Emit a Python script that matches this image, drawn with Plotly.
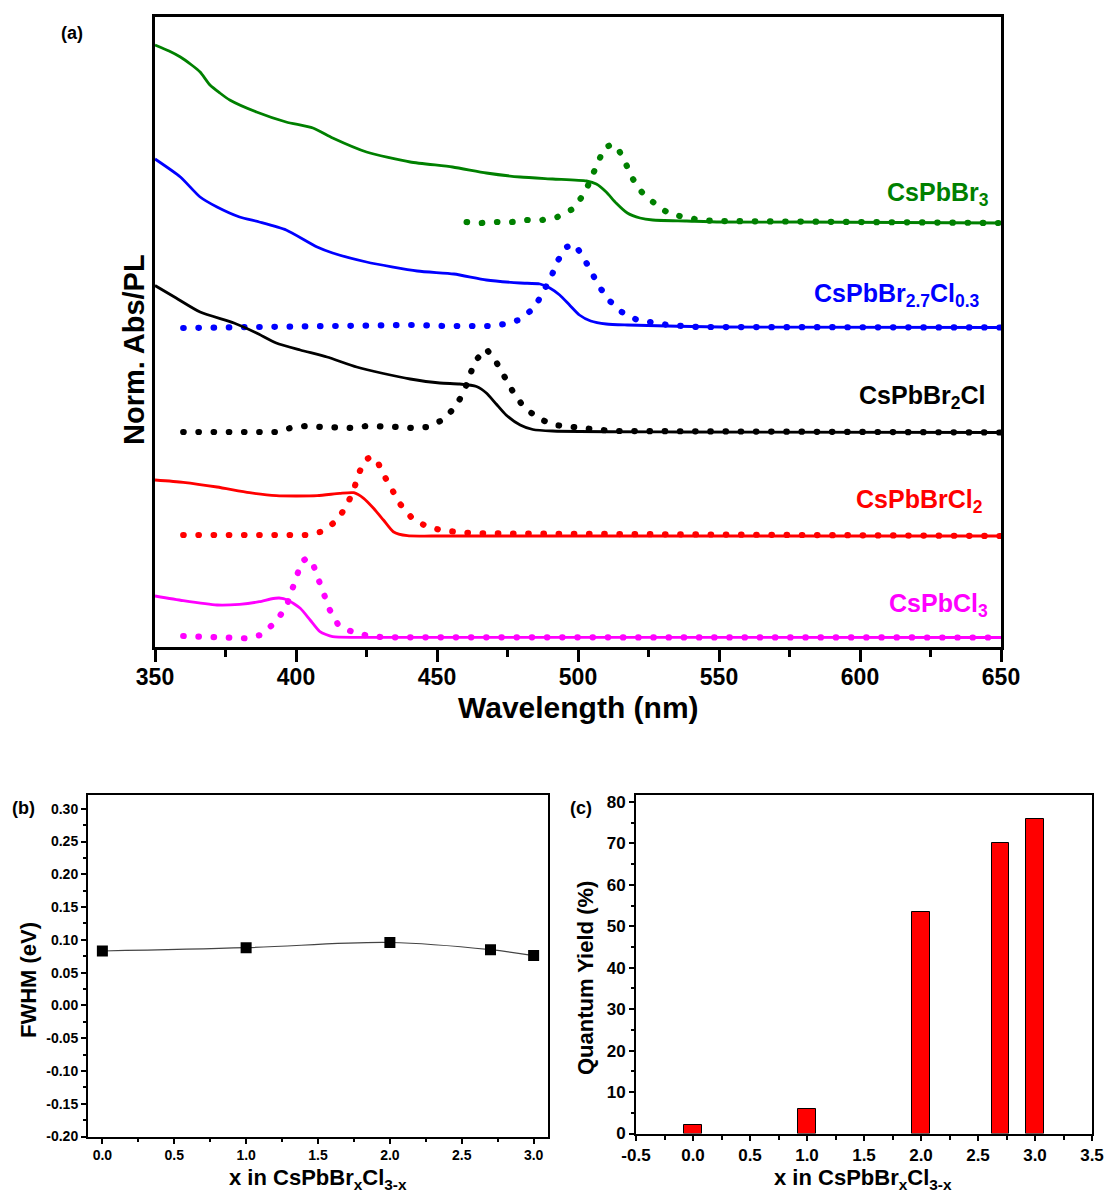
import plotly.graph_objects as go

FONT = "Liberation Sans, Arial, sans-serif"

# ---------------- Panel (a): normalized absorption (solid) and PL (dotted) ----------------
WL_TICKS = [350, 400, 450, 500, 550, 600, 650]

# CsPbBr3 (green)
BR3_ABS_X = [350, 355, 359, 363, 366, 369.5, 373, 376.5, 386, 396.5, 406, 413, 425, 440.5, 455.5,
             467.5, 479.5, 491, 503, 506.5, 510, 513.5, 517.5, 522, 526.5, 538.5, 550.5, 578.5, 614, 650]
BR3_ABS_Y = [6.02, 5.96, 5.90, 5.82, 5.75, 5.62, 5.54, 5.47, 5.35, 5.25, 5.19, 5.09, 4.95, 4.85, 4.80,
             4.74, 4.70, 4.68, 4.66, 4.63, 4.55, 4.44, 4.34, 4.29, 4.27, 4.26, 4.25, 4.25, 4.245, 4.24]
BR3_PL_X = [460.5, 465.8, 471.2, 476.6, 482.0, 487.3, 492.7, 498.2, 502.4, 504.7, 507.0, 509.3, 511.5,
            513.7, 516.7, 519.0, 522.6, 527.4, 532.4, 537.7, 543.3, 548.6, 650]
BR3_PL_Y = [4.25, 4.24, 4.25, 4.25, 4.27, 4.27, 4.30, 4.38, 4.54, 4.69, 4.84, 4.99, 5.02,
            5.01, 4.85, 4.70, 4.55, 4.43, 4.33, 4.30, 4.27, 4.26, 4.24]

# CsPbBr2.7Cl0.3 (blue)
BR27_ABS_X = [350, 359, 366, 372, 380, 387, 396.5, 407.5, 413, 425, 443, 456, 467.5, 479.5, 486.5,
              490, 493.5, 497, 500.5, 504.5, 510, 517.5, 550.5, 650]
BR27_ABS_Y = [4.88, 4.70, 4.50, 4.40, 4.30, 4.25, 4.17, 4.00, 3.94, 3.85, 3.76, 3.73, 3.67, 3.64, 3.63,
              3.59, 3.52, 3.42, 3.32, 3.26, 3.23, 3.22, 3.20, 3.195]
BR27_PL_X = [360, 398, 414.5, 430.5, 441.5, 452, 463, 468.5, 474, 479, 484.5, 487.5, 490.5, 492.5, 496,
             498.5, 501, 504, 507, 510.5, 515.5, 521, 526.5, 532, 537.5, 542.5, 650]
BR27_PL_Y = [3.19, 3.20, 3.21, 3.22, 3.22, 3.21, 3.21, 3.21, 3.23, 3.27, 3.39, 3.54, 3.70, 3.85, 4.00,
             4.03, 3.94, 3.79, 3.63, 3.48, 3.35, 3.27, 3.24, 3.22, 3.21, 3.20, 3.195]

# CsPbBr2Cl (black)
BR2_ABS_X = [350, 357.5, 366, 378, 386, 393, 401.5, 411, 421.5, 431, 440.5, 451, 458, 464, 467.5,
             471, 474.5, 479.5, 484, 491, 536, 650]
BR2_ABS_Y = [3.615, 3.49, 3.35, 3.24, 3.14, 3.04, 2.97, 2.90, 2.80, 2.735, 2.68, 2.64, 2.63, 2.605, 2.54,
             2.43, 2.32, 2.22, 2.175, 2.16, 2.15, 2.145]
BR2_PL_X = [360, 393, 398, 403.5, 409, 414.5, 420, 425, 430.5, 436, 441.5, 446.5, 452, 456.5, 459.5,
            461.5, 463.5, 467.5, 471, 474, 477, 481, 486.5, 491.5, 497, 502.5, 508, 513.5, 650]
BR2_PL_Y = [2.15, 2.15, 2.19, 2.21, 2.20, 2.19, 2.19, 2.21, 2.21, 2.20, 2.19, 2.20, 2.27, 2.40, 2.55,
            2.71, 2.86, 2.98, 2.85, 2.70, 2.55, 2.39, 2.28, 2.22, 2.20, 2.19, 2.17, 2.16, 2.145]

# CsPbBrCl2 (red)
BR1_ABS_X = [350, 360, 372, 383.5, 393, 407.5, 415.5, 420.5, 424, 427.5, 431, 434.5, 439.5, 448.5, 650]
BR1_ABS_Y = [1.67, 1.647, 1.60, 1.543, 1.513, 1.513, 1.537, 1.543, 1.487, 1.387, 1.27, 1.153, 1.113, 1.11, 1.11]
BR1_PL_X = [360, 403.5, 409, 414.5, 418, 420.5, 422, 424.5, 426.5, 428.5, 431, 434, 437, 441.5, 447,
            452.5, 458, 463, 650]
BR1_PL_Y = [1.12, 1.12, 1.153, 1.263, 1.417, 1.57, 1.72, 1.87, 1.90, 1.877, 1.727, 1.577, 1.427, 1.277, 1.197,
            1.163, 1.147, 1.137, 1.11]

# CsPbCl3 (magenta)
CL3_ABS_X = [350, 360, 372, 380, 387, 391, 394, 397, 401.5, 405, 408.5, 413, 425, 650]
CL3_ABS_Y = [0.51, 0.463, 0.42, 0.427, 0.453, 0.48, 0.49, 0.47, 0.387, 0.27, 0.153, 0.103, 0.097, 0.095]
CL3_PL_X = [360, 371, 376.5, 382, 387.5, 392.5, 396.5, 398.5, 400, 402, 404, 406, 408, 410, 412, 415,
            420.5, 425.5, 431, 650]
CL3_PL_Y = [0.11, 0.103, 0.087, 0.087, 0.12, 0.243, 0.397, 0.547, 0.70, 0.853, 0.89, 0.833, 0.673, 0.52,
            0.37, 0.22, 0.143, 0.113, 0.097, 0.095]

SAMPLE_LABELS = ["CsPbBr<sub>3</sub>", "CsPbBr<sub>2.7</sub>Cl<sub>0.3</sub>", "CsPbBr<sub>2</sub>Cl",
                 "CsPbBrCl<sub>2</sub>", "CsPbCl<sub>3</sub>"]

# ---------------- Panels (b) and (c) ----------------
X_COMP = [0.0, 1.0, 2.0, 2.7, 3.0]
FWHM_EV = [0.083, 0.088, 0.096, 0.085, 0.076]
QY_PCT = [2.1, 6.0, 53.5, 70.0, 75.8]

B_YTICKS = [-0.20, -0.15, -0.10, -0.05, 0.00, 0.05, 0.10, 0.15, 0.20, 0.25, 0.30]
B_YLABELS = ["-0.20", "-0.15", "-0.10", "-0.05", "0.00", "0.05", "0.10", "0.15", "0.20", "0.25", "0.30"]
B_XTICKS = [0.0, 0.5, 1.0, 1.5, 2.0, 2.5, 3.0]
B_XLABELS = ["0.0", "0.5", "1.0", "1.5", "2.0", "2.5", "3.0"]
C_XTICKS = [-0.5, 0.0, 0.5, 1.0, 1.5, 2.0, 2.5, 3.0, 3.5]
C_XLABELS = ["-0.5", "0.0", "0.5", "1.0", "1.5", "2.0", "2.5", "3.0", "3.5"]
C_YTICKS = [0, 10, 20, 30, 40, 50, 60, 70, 80]

# ---------------- styles / positions ----------------
COLORS = ["#008000", "#0000FF", "#000000", "#FF0000", "#FF00FF"]
SERIES = [
    (BR3_ABS_X, BR3_ABS_Y, BR3_PL_X, BR3_PL_Y),
    (BR27_ABS_X, BR27_ABS_Y, BR27_PL_X, BR27_PL_Y),
    (BR2_ABS_X, BR2_ABS_Y, BR2_PL_X, BR2_PL_Y),
    (BR1_ABS_X, BR1_ABS_Y, BR1_PL_X, BR1_PL_Y),
    (CL3_ABS_X, CL3_ABS_Y, CL3_PL_X, CL3_PL_Y),
]
LABEL_POS = [(646.5, 4.53), (643.2, 3.52), (644.9, 2.50), (644.2, 1.46), (646.0, 0.42)]

W, H = 1106, 1194


def px_x(p):
    return p / W


def px_y(p):
    return 1 - p / H


fig = go.Figure()

for (ax, ay, lx, ly), col in zip(SERIES, COLORS):
    fig.add_trace(go.Scatter(x=ax, y=ay, mode="lines", xaxis="x", yaxis="y",
                             line=dict(color=col, width=2.8, shape="spline", smoothing=0.6),
                             hoverinfo="skip", showlegend=False))
    fig.add_trace(go.Scatter(x=lx, y=ly, mode="lines", xaxis="x", yaxis="y",
                             line=dict(color=col, width=6.2, dash="0.5px,14.7px"),
                             hoverinfo="skip", showlegend=False))

fig.add_trace(go.Scatter(x=X_COMP, y=FWHM_EV, mode="lines+markers", xaxis="x2", yaxis="y2",
                         line=dict(color="#444444", width=1.2, shape="spline"),
                         marker=dict(symbol="square", size=11, color="black"),
                         showlegend=False))

fig.add_trace(go.Bar(x=X_COMP, y=QY_PCT, xaxis="x3", yaxis="y3", width=0.15,
                     marker=dict(color="#FF0000", line=dict(color="black", width=1)),
                     showlegend=False))

axis_common = dict(showgrid=False, zeroline=False, showline=True, linecolor="black", mirror=True,
                   tickcolor="black", automargin=False)

fig.update_layout(
    width=W, height=H,
    margin=dict(l=0, r=0, t=0, b=0, pad=0, autoexpand=False),
    paper_bgcolor="white", plot_bgcolor="white",
    showlegend=False,
    font=dict(family=FONT, color="black"),
    xaxis=dict(domain=[px_x(155), px_x(1001)], range=[350, 650], anchor="y",
               tickmode="array", tickvals=WL_TICKS, ticktext=[str(v) for v in WL_TICKS],
               ticks="outside", ticklen=12, tickwidth=3, linewidth=3, ticklabelstandoff=-5,
               tickfont=dict(family=FONT, size=23, weight="bold", color="black"),
               minor=dict(ticks="outside", ticklen=7, tickwidth=2.5, dtick=25, tick0=350, tickcolor="black"),
               **axis_common),
    yaxis=dict(domain=[px_y(647), px_y(17)], range=[0, 6.30], anchor="x",
               ticks="", showticklabels=False, linewidth=3, **axis_common),
    xaxis2=dict(domain=[px_x(88), px_x(548)], range=[-0.1, 3.1], anchor="y2",
                tickmode="array", tickvals=B_XTICKS, ticktext=B_XLABELS,
                ticks="outside", ticklen=5, tickwidth=1.5, linewidth=2,
                tickfont=dict(family=FONT, size=14, weight="bold", color="black"),
                minor=dict(ticks="outside", ticklen=3, tickwidth=1.5, dtick=0.25, tick0=0, tickcolor="black"),
                **axis_common),
    yaxis2=dict(domain=[px_y(1136.5), px_y(795)], range=[-0.2, 0.321], anchor="x2",
                tickmode="array", tickvals=B_YTICKS, ticktext=B_YLABELS,
                ticks="outside", ticklen=5, tickwidth=1.5, linewidth=2,
                tickfont=dict(family=FONT, size=14, weight="bold", color="black"),
                minor=dict(ticks="outside", ticklen=3, tickwidth=1.5, dtick=0.025, tick0=0, tickcolor="black"),
                **axis_common),
    xaxis3=dict(domain=[px_x(636), px_x(1092)], range=[-0.5, 3.5], anchor="y3",
                tickmode="array", tickvals=C_XTICKS, ticktext=C_XLABELS,
                ticks="outside", ticklen=5, tickwidth=1.5, linewidth=2,
                tickfont=dict(family=FONT, size=17, weight="bold", color="black"),
                minor=dict(ticks="outside", ticklen=4, tickwidth=1.5, dtick=0.25, tick0=-0.5, tickcolor="black"),
                **axis_common),
    yaxis3=dict(domain=[px_y(1133.5), px_y(795)], range=[0, 81.7], anchor="x3",
                tickmode="array", tickvals=C_YTICKS, ticktext=[str(v) for v in C_YTICKS],
                ticks="outside", ticklen=5, tickwidth=1.5, linewidth=2,
                tickfont=dict(family=FONT, size=17, weight="bold", color="black"),
                minor=dict(ticks="outside", ticklen=3, tickwidth=1.5, dtick=5, tick0=0, tickcolor="black"),
                **axis_common),
    bargap=0,
)

ann = []
for text, col, (lx, ly) in zip(SAMPLE_LABELS, COLORS, LABEL_POS):
    ann.append(dict(text=text, x=lx, y=ly, xref="x", yref="y", xanchor="right", yanchor="middle",
                    showarrow=False, font=dict(family=FONT, size=25, weight="bold", color=col)))


def paper_text(text, x, y, size, angle=0, yanchor="middle"):
    return dict(text=text, x=px_x(x), y=px_y(y), xref="paper", yref="paper", xanchor="center",
                yanchor=yanchor, showarrow=False, textangle=angle,
                font=dict(family=FONT, size=size, weight="bold", color="black"))


ann += [
    paper_text("(a)", 72, 33, 18),
    paper_text("Norm. Abs/PL", 134, 350, 29, -90),
    paper_text("Wavelength (nm)", 578, 707, 30),
    paper_text("(b)", 23, 808, 18),
    paper_text("FWHM (eV)", 28, 980, 22, -90),
    paper_text("x in CsPbBr<sub>x</sub>Cl<sub>3-x</sub>", 318, 1163, 22, 0, "top"),
    paper_text("(c)", 581, 808, 18),
    paper_text("Quantum Yield (%)", 585, 978, 22, -90),
    paper_text("x in CsPbBr<sub>x</sub>Cl<sub>3-x</sub>", 863, 1163, 22, 0, "top"),
]
fig.update_layout(annotations=ann)

POST = """
document.documentElement.style.margin='0';
document.body.style.margin='0';
document.body.style.overflow='hidden';
var gd = document.getElementById('{plot_id}');
function roundDots(){
  var paths = gd.querySelectorAll('path.js-line');
  paths.forEach(function(p){
    var d = p.style.strokeDasharray;
    if (d && d !== 'none' && d !== '') { p.style.strokeLinecap = 'round'; }
  });
}
roundDots();
if (gd.on) { gd.on('plotly_afterplot', roundDots); }
setTimeout(roundDots, 50);
setTimeout(roundDots, 300);
"""

fig.write_html("out.html", post_script=POST, config={"displayModeBar": False})
